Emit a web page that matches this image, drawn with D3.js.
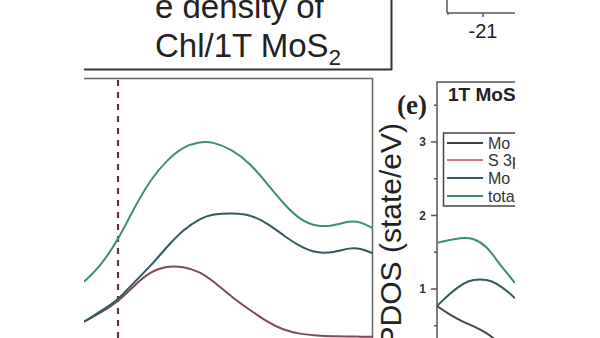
<!DOCTYPE html>
<html><head><meta charset="utf-8">
<script src="https://cdn.jsdelivr.net/npm/d3@7"></script>
<style>html,body{margin:0;padding:0;background:#fff;}svg{display:block;}</style>
</head><body>
<svg id="c" width="600" height="338"></svg>
<script>
// ---- Panel (d): PDOS of Chl/1T MoS2 (energy in eV, Fermi level at 0)
const energyD = [-0.34,-0.18,0,0.15,0.32,0.49,0.65,0.82,0.95,1.15,1.32,1.49,1.65,1.82,1.99,2.15,2.32,2.42,2.55];
const totalD  = [0.777,0.977,1.333,1.733,2.133,2.4,2.577,2.643,2.643,2.533,2.356,2.089,1.823,1.6,1.511,1.52,1.591,1.577,1.489];
const mo4dD   = [0.244,0.377,0.533,0.756,0.977,1.244,1.467,1.623,1.68,1.693,1.673,1.56,1.4,1.244,1.156,1.164,1.231,1.223,1.156];
const s3pD    = [0.244,0.356,0.511,0.711,0.911,0.987,0.98,0.911,0.787,0.56,0.4,0.244,0.133,0.08,0.057,0.049,0.047,0.044,0.044];
const fermiD  = 0;

// ---- Panel (e): PDOS of 1T MoS2
const energyE = [-1,-0.87,-0.74,-0.64,-0.5,-0.4,-0.27,-0.22];
const totalE  = [1.63,1.667,1.70,1.694,1.585,1.381,1.167,1.082];
const mo4dE   = [0.769,0.941,1.078,1.132,1.132,1.078,0.941,0.873];
const moOthE  = [0.769,0.646,0.555,0.497,0.401,0.293,0.143,0.088];
const yTicksE = [1,2,3];
const yMinorE = [0.5,1.5,2.5,3.5];
const legendLabels = ["Mo 4d","S 3p","Mo 4d","total"];

// ---- Top-right fragment axis
const topTicks = [-21];
const topMinor = [-21.5];

const svg = d3.select("#c");
const F = "'Liberation Sans', Arial, sans-serif";
const defs = svg.append("defs");
defs.append("clipPath").attr("id","clipD").append("rect").attr("x",84).attr("y",78).attr("width",289).attr("height",262);
defs.append("clipPath").attr("id","clipE").append("rect").attr("x",437).attr("y",80).attr("width",78).attr("height",260);
defs.append("clipPath").attr("id","clipR").append("rect").attr("x",0).attr("y",0).attr("width",515).attr("height",338);

// ---- Title box (top-left)
svg.append("line").attr("x1",84).attr("x2",392).attr("y1",69.5).attr("y2",69.5).attr("stroke","#333").attr("stroke-width",2);
svg.append("line").attr("x1",391.5).attr("x2",391.5).attr("y1",0).attr("y2",70).attr("stroke","#333").attr("stroke-width",2);
svg.append("text").attr("x",155).attr("y",18).attr("font-family",F).attr("font-size",33).attr("fill","#222").text("e density of");
const t2 = svg.append("text").attr("x",155).attr("y",57).attr("font-family",F).attr("font-size",33).attr("fill","#222");
t2.append("tspan").text("Chl/1T MoS");
t2.append("tspan").attr("font-size",22).attr("dy",8).text("2");

// ---- Top-right fragment
const gTop = svg.append("g").attr("clip-path","url(#clipR)");
const xTop = d3.scaleLinear().domain([-22, -20]).range([411, 555]);
gTop.append("line").attr("x1",447).attr("x2",520).attr("y1",13).attr("y2",13).attr("stroke","#555").attr("stroke-width",1.5);
gTop.append("line").attr("x1",447).attr("x2",447).attr("y1",0).attr("y2",13).attr("stroke","#555").attr("stroke-width",1.5);
gTop.selectAll(".tt").data(topTicks).join("line").attr("x1",d=>xTop(d)).attr("x2",d=>xTop(d)).attr("y1",13).attr("y2",17).attr("stroke","#555").attr("stroke-width",1.5);
gTop.selectAll(".tm").data(topMinor).join("line").attr("x1",d=>xTop(d)+1).attr("x2",d=>xTop(d)+1).attr("y1",13).attr("y2",15).attr("stroke","#555").attr("stroke-width",1.2);
gTop.selectAll(".tl").data(topTicks).join("text").attr("x",d=>xTop(d)).attr("y",38).attr("text-anchor","middle")
  .attr("font-family",F).attr("font-size",20).attr("fill","#222").text(d=>d);

// ---- Panel (d)
const xD = d3.scaleLinear().domain([-0.34, 2.55]).range([84, 373]);
const yD = d3.scaleLinear().domain([0, 3.5]).range([340, 77.5]);
svg.append("line").attr("x1",84).attr("x2",373).attr("y1",78.5).attr("y2",78.5).attr("stroke","#666").attr("stroke-width",1.5);
svg.append("line").attr("x1",372.5).attr("x2",372.5).attr("y1",78).attr("y2",338).attr("stroke","#666").attr("stroke-width",1.5);
const gD = svg.append("g").attr("clip-path","url(#clipD)");
gD.append("line").attr("x1",xD(fermiD)).attr("x2",xD(fermiD)).attr("y1",80).attr("y2",338)
  .attr("stroke","#6a3038").attr("stroke-width",2.2).attr("stroke-dasharray","6,6");
const lineD = d3.line().x(d=>xD(d[0])).y(d=>yD(d[1])).curve(d3.curveBasis);
[[s3pD,"#7d4a5a"],[mo4dD,"#2e5a60"],[totalD,"#3f8d74"]].forEach(([vals,col])=>{
  gD.append("path").attr("d",lineD(energyD.map((e,i)=>[e,vals[i]]))).attr("fill","none").attr("stroke",col).attr("stroke-width",2);
});

// ---- Panel (e)
const xE = d3.scaleLinear().domain([-1, -0.22]).range([437, 515]);
const yE = d3.scaleLinear().domain([0, 3.82]).range([362.5, 81.7]);
svg.append("line").attr("x1",437).attr("x2",437).attr("y1",81.5).attr("y2",338).attr("stroke","#555").attr("stroke-width",1.5);
svg.append("line").attr("x1",437).attr("x2",515).attr("y1",82).attr("y2",82).attr("stroke","#555").attr("stroke-width",1.5);
svg.selectAll(".ye").data(yTicksE).join("line").attr("x1",431).attr("x2",437).attr("y1",d=>yE(d)).attr("y2",d=>yE(d)).attr("stroke","#555").attr("stroke-width",1.5);
svg.selectAll(".ym").data(yMinorE).join("line").attr("x1",434).attr("x2",437).attr("y1",d=>yE(d)).attr("y2",d=>yE(d)).attr("stroke","#555").attr("stroke-width",1.5);
svg.selectAll(".yl").data(yTicksE).join("text").attr("x",426).attr("y",d=>yE(d)).attr("dy","0.36em").attr("text-anchor","end")
  .attr("font-family",F).attr("font-weight","bold").attr("font-size",12).attr("fill","#333").text(d=>d);
svg.append("text").attr("transform","translate(401,123) rotate(-90)").attr("text-anchor","end")
  .attr("font-family",F).attr("font-size",30).attr("fill","#222").text("PDOS (state/eV)");
svg.append("text").attr("x",412).attr("y",114).attr("text-anchor","middle")
  .attr("font-family","'Liberation Serif','Times New Roman',serif").attr("font-weight","bold").attr("font-size",27).attr("fill","#222").text("(e)");
const gE = svg.append("g").attr("clip-path","url(#clipE)");
gE.append("text").attr("x",448).attr("y",101).attr("font-family",F).attr("font-weight","bold").attr("font-size",19).attr("fill","#222").text("1T MoS2");
const lineE = d3.line().x(d=>xE(d[0])).y(d=>yE(d[1])).curve(d3.curveBasis);
[[moOthE,"#454552"],[mo4dE,"#2e5a60"],[totalE,"#3f8d74"]].forEach(([vals,col])=>{
  gE.append("path").attr("d",lineE(energyE.map((e,i)=>[e,vals[i]]))).attr("fill","none").attr("stroke",col).attr("stroke-width",2);
});
// legend
gE.append("rect").attr("x",443.5).attr("y",133).attr("width",100).attr("height",73).attr("fill","#fff").attr("stroke","#444").attr("stroke-width",1.5);
const legCols = ["#3d3d48","#d9707e","#2e5a60","#3f8d74"];
const legY = [143,160,178,196];
legendLabels.forEach((lab,i)=>{
  gE.append("line").attr("x1",447).attr("x2",483).attr("y1",legY[i]).attr("y2",legY[i]).attr("stroke",legCols[i]).attr("stroke-width",2);
  gE.append("text").attr("x",488).attr("y",legY[i]).attr("dy","0.36em").attr("font-family",F).attr("font-size",16).attr("fill","#333").text(lab);
});
</script>
</body></html>
